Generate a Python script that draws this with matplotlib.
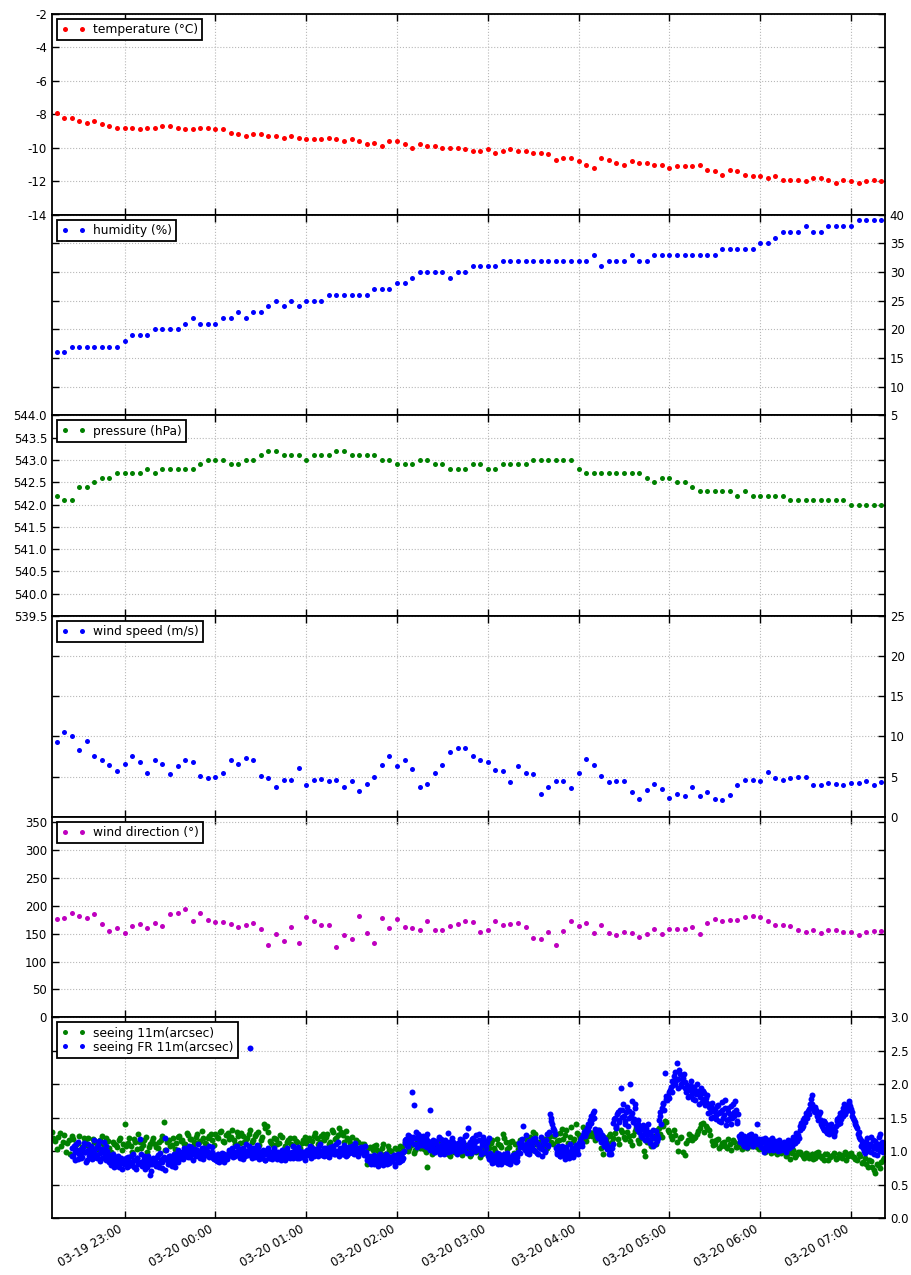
import numpy as np
import pandas as pd
import matplotlib
matplotlib.use("Agg")
import matplotlib.pyplot as plt
import matplotlib.dates as mdates
from matplotlib.ticker import FormatStrFormatter

plt.rcParams["font.family"] = ["DejaVu Sans"]
plt.rcParams["font.size"] = 8.5

# weather station, one sample every 5 minutes
weather_start = "2016-03-19 22:15"

temperature = [
    -7.9, -8.2, -8.2, -8.4, -8.5, -8.4, -8.6, -8.7, -8.8, -8.8,
    -8.8, -8.9, -8.8, -8.8, -8.7, -8.7, -8.8, -8.9, -8.9, -8.8,
    -8.8, -8.9, -8.9, -9.1, -9.2, -9.3, -9.2, -9.2, -9.3, -9.3,
    -9.4, -9.3, -9.4, -9.5, -9.5, -9.5, -9.4, -9.5, -9.6, -9.5,
    -9.6, -9.8, -9.7, -9.9, -9.6, -9.6, -9.8, -10.0, -9.8, -9.9,
    -9.9, -10.0, -10.0, -10.0, -10.1, -10.2, -10.2, -10.1, -10.3, -10.2,
    -10.1, -10.2, -10.2, -10.3, -10.3, -10.4, -10.7, -10.6, -10.6, -10.8,
    -11.0, -11.2, -10.6, -10.7, -10.9, -11.0, -10.8, -10.9, -10.9, -11.0,
    -11.0, -11.2, -11.1, -11.1, -11.1, -11.0, -11.3, -11.4, -11.6, -11.3,
    -11.4, -11.6, -11.7, -11.7, -11.8, -11.7, -11.9, -11.9, -11.9, -12.0,
    -11.8, -11.8, -11.9, -12.1, -11.9, -12.0, -12.1, -12.0, -11.9, -12.0,
]

humidity = [
    16, 16, 17, 17, 17, 17, 17, 17, 17, 18,
    19, 19, 19, 20, 20, 20, 20, 21, 22, 21,
    21, 21, 22, 22, 23, 22, 23, 23, 24, 25,
    24, 25, 24, 25, 25, 25, 26, 26, 26, 26,
    26, 26, 27, 27, 27, 28, 28, 29, 30, 30,
    30, 30, 29, 30, 30, 31, 31, 31, 31, 32,
    32, 32, 32, 32, 32, 32, 32, 32, 32, 32,
    32, 33, 31, 32, 32, 32, 33, 32, 32, 33,
    33, 33, 33, 33, 33, 33, 33, 33, 34, 34,
    34, 34, 34, 35, 35, 36, 37, 37, 37, 38,
    37, 37, 38, 38, 38, 38, 39, 39, 39, 39,
]

pressure = [
    542.2, 542.1, 542.1, 542.4, 542.4, 542.5, 542.6, 542.6, 542.7, 542.7,
    542.7, 542.7, 542.8, 542.7, 542.8, 542.8, 542.8, 542.8, 542.8, 542.9,
    543.0, 543.0, 543.0, 542.9, 542.9, 543.0, 543.0, 543.1, 543.2, 543.2,
    543.1, 543.1, 543.1, 543.0, 543.1, 543.1, 543.1, 543.2, 543.2, 543.1,
    543.1, 543.1, 543.1, 543.0, 543.0, 542.9, 542.9, 542.9, 543.0, 543.0,
    542.9, 542.9, 542.8, 542.8, 542.8, 542.9, 542.9, 542.8, 542.8, 542.9,
    542.9, 542.9, 542.9, 543.0, 543.0, 543.0, 543.0, 543.0, 543.0, 542.8,
    542.7, 542.7, 542.7, 542.7, 542.7, 542.7, 542.7, 542.7, 542.6, 542.5,
    542.6, 542.6, 542.5, 542.5, 542.4, 542.3, 542.3, 542.3, 542.3, 542.3,
    542.2, 542.3, 542.2, 542.2, 542.2, 542.2, 542.2, 542.1, 542.1, 542.1,
    542.1, 542.1, 542.1, 542.1, 542.1, 542.0, 542.0, 542.0, 542.0, 542.0,
]

wind_speed = [
    9.3, 10.5, 10.1, 8.3, 9.4, 7.5, 7.0, 6.5, 5.7, 6.6,
    7.6, 6.8, 5.4, 7.0, 6.6, 5.3, 6.3, 7.1, 6.8, 5.1,
    4.8, 4.9, 5.4, 7.1, 6.6, 7.3, 7.1, 5.1, 4.8, 3.7,
    4.6, 4.6, 6.1, 3.9, 4.6, 4.7, 4.4, 4.6, 3.7, 4.4,
    3.2, 4.1, 4.9, 6.4, 7.6, 6.3, 7.1, 5.9, 3.7, 4.1,
    5.5, 6.4, 8.0, 8.5, 8.5, 7.6, 7.0, 6.8, 5.8, 5.7,
    4.3, 6.3, 5.4, 5.3, 2.8, 3.7, 4.5, 4.5, 3.6, 5.4,
    7.2, 6.5, 5.1, 4.3, 4.5, 4.4, 3.1, 2.2, 3.3, 4.1,
    3.5, 2.3, 2.8, 2.6, 3.7, 2.6, 3.1, 2.2, 2.1, 2.7,
    3.9, 4.6, 4.6, 4.5, 5.6, 4.8, 4.6, 4.8, 5.0, 4.9,
    4.0, 4.0, 4.2, 4.1, 3.9, 4.2, 4.2, 4.5, 4.0, 4.3,
]

wind_dir = [
    177, 179, 187, 181, 179, 185, 167, 155, 161, 152,
    164, 167, 161, 170, 164, 185, 187, 194, 172, 187,
    175, 171, 171, 167, 162, 165, 170, 158, 129, 149,
    137, 162, 134, 180, 173, 165, 165, 126, 147, 140,
    181, 152, 133, 179, 160, 176, 162, 160, 157, 173,
    157, 157, 164, 168, 173, 171, 153, 156, 172, 165,
    168, 170, 162, 142, 140, 154, 130, 155, 172, 164,
    170, 151, 165, 152, 147, 153, 152, 144, 149, 158,
    149, 159, 158, 159, 162, 150, 170, 176, 173, 174,
    174, 180, 182, 180, 172, 166, 165, 163, 157, 154,
    156, 151, 157, 157, 154, 154, 147, 154, 155, 155,
]

# seeing monitors, values in 1/100 arcsec
# 11m: even minutes from 22:12, odd minutes from 22:13
seeing_11m_even_start = "2016-03-19 22:12"
seeing_11m_even = [
    128, 115, 121, 108, 124, 112, 96, 118, 110, 122, 106, 115, 119, 104, 113, 108, 117, 111, 120, 105, 114, 109, 116, 102,
    141, 112, 107, 118, 103, 114, 109, 121, 106, 115, 111, 104, 117, 144, 113, 108, 119, 112, 122, 116, 110, 124, 118, 113, 126, 115, 120, 111, 123, 117,
    125, 119, 130, 114, 127, 121, 116, 128, 112, 123, 118, 126, 113, 122, 129, 117, 140, 137, 115, 109, 118, 112, 121, 107, 116, 110, 119, 113, 105, 117,
    112, 120, 115, 127, 110, 122, 117, 125, 113, 129, 119, 135, 124, 130, 116, 121, 108, 113, 104, 110, 81, 106, 101, 109, 98, 104, 96, 107, 100, 94,
    103, 108, 99, 112, 105, 110, 101, 108, 114, 103, 77, 109, 104, 111, 100, 107, 102, 95, 106, 99, 104, 97, 108, 101, 93, 105, 98, 103, 96, 100,
    107, 112, 104, 118, 109, 125, 113, 106, 115, 110, 103, 117, 108, 114, 121, 128, 111, 106, 116, 109, 119, 113, 122, 115, 127, 118, 132, 121, 114, 140,
    124, 118, 131, 122, 147, 128, 119, 125, 95, 116, 122, 113, 127, 118, 132, 121, 128, 115, 124, 135, 112, 119, 92, 117, 108, 122, 131, 126, 138, 143,
    128, 118, 124, 100, 121, 94, 117, 123, 119, 126, 134, 142, 138, 131, 115, 110, 118, 107, 113, 104, 111, 116, 106, 112, 103, 109, 115, 108, 113, 106,
    110, 103, 108, 101, 106, 99, 104, 97, 102, 96, 88, 101, 94, 99, 92, 97, 90, 95, 89, 98, 93, 87, 96, 91, 94, 88, 95, 90, 99, 93,
    97, 91, 86, 92, 84, 80, 87, 76, 68, 79, 83, 90,
]
seeing_11m_odd_start = "2016-03-19 22:13"
seeing_11m_odd = [
    119, 103, 127, 114, 99, 116, 123, 107, 112, 98, 120, 109, 104, 118, 113, 101, 122, 107, 115, 99, 111, 106, 119, 110,
    108, 120, 99, 113, 125, 104, 116, 98, 111, 119, 106, 114, 122, 101, 117, 109, 103, 121, 115, 110, 127, 118, 108, 121, 114, 130, 112, 119, 125, 109,
    121, 128, 115, 124, 118, 132, 110, 122, 127, 114, 120, 131, 117, 125, 109, 121, 135, 128, 112, 119, 111, 124, 103, 114, 120, 108, 115, 102, 112, 121,
    116, 108, 123, 119, 113, 126, 121, 110, 131, 118, 124, 128, 114, 120, 112, 106, 117, 101, 111, 99, 104, 93, 108, 102, 97, 111, 95, 102, 90, 105,
    98, 106, 113, 100, 109, 97, 115, 104, 111, 99, 108, 96, 104, 113, 101, 97, 110, 93, 106, 101, 99, 94, 109, 103, 96, 106, 100, 91, 102, 97,
    104, 116, 100, 111, 106, 119, 103, 114, 97, 110, 116, 107, 120, 112, 101, 125, 114, 109, 118, 104, 122, 110, 126, 116, 133, 124, 112, 136, 118, 127,
    120, 136, 115, 129, 123, 117, 131, 104, 121, 112, 126, 119, 135, 111, 129, 118, 122, 109, 130, 116, 124, 100, 113, 126, 119, 110, 134, 121, 145, 131,
    122, 131, 113, 120, 99, 112, 126, 116, 121, 130, 140, 128, 135, 124, 109, 117, 104, 112, 108, 118, 102, 113, 106, 110, 117, 104, 111, 108, 114, 103,
    105, 99, 106, 97, 103, 95, 101, 105, 93, 98, 97, 91, 99, 95, 90, 96, 93, 88, 97, 92, 90, 95, 86, 93, 97, 89, 92, 94, 87, 96,
    93, 88, 95, 82, 89, 77, 85, 72, 81, 75, 86,
]

# FR 11m: every minute from 22:25, plus the half-minute readings from 22:25:30
seeing_fr_start = "2016-03-19 22:25"
seeing_fr = [
    105, 92, 99, 110, 88, 96, 103, 91, 112, 98, 86, 101, 95, 108, 90, 99, 104, 93, 115, 97,
    89, 102, 94, 107, 92, 84, 79, 88, 76, 85, 91, 80, 83, 74, 87,
    82, 90, 78, 85, 93, 81, 77, 86, 89, 80, 118, 84, 79, 92, 83, 76, 88, 64, 81, 90,
    85, 78, 94, 82, 87, 75, 91, 120, 86, 80, 93, 84, 89, 77, 95, 83, 88, 92, 99, 94,
    103, 96, 91, 100, 106, 95, 98, 93, 102, 97, 90, 104, 99, 94, 101, 96, 108, 92, 98, 88,
    91, 85, 94, 87, 92, 86, 95, 89, 93, 101, 96, 105, 98, 92, 107, 100, 94, 103, 88, 99,
    110, 97, 102, 254, 95, 104, 91, 100, 106, 93, 98, 90, 96, 87, 101, 94, 89, 99, 92, 104,
    95, 88, 97, 91, 102, 93, 86, 96, 99, 90, 94, 108, 92, 97, 89, 95, 100, 91, 98, 93,
    97, 102, 94, 99, 105, 92, 98, 101, 95, 110, 96, 100, 93, 104, 98, 91, 102, 97, 107, 95,
    100, 114, 98, 103, 96, 109, 101, 94, 106, 99, 103, 97, 112, 100, 95, 105, 98, 102, 96, 108,
    93, 89, 84, 91, 86, 80, 92, 87, 83, 95, 88, 79, 90, 85, 93, 82, 89, 86, 94, 81,
    88, 92, 85, 97, 90, 112, 118, 108, 122, 115, 188, 169, 120, 111, 126, 117, 109, 123, 114, 119,
    106, 113, 161, 104, 110, 99, 115, 107, 102, 118, 105, 96, 111, 103, 127, 108, 100, 114, 106, 98,
    112, 104, 109, 116, 101, 122, 108, 135, 113, 97, 119, 110, 124, 105, 117, 102, 114, 121, 99, 111,
    92, 120, 86, 94, 83, 90, 97, 85, 91, 80, 88, 95, 84, 92, 87, 81, 93, 89, 96, 85,
    99, 106, 112, 138, 104, 110, 97, 115, 102, 108, 118, 100, 113, 95, 107, 121, 103, 111, 98, 126,
    109, 155, 145, 135, 130, 104, 96, 101, 92, 107, 98, 88, 103, 95, 110, 99, 91, 105, 97, 102,
    108, 115, 112, 124, 130, 127, 141, 138, 152, 148, 160, 133, 126, 119, 128, 114, 121, 108, 112, 103,
    96, 99, 105, 142, 150, 138, 158, 147, 195, 162, 153, 141, 166, 149, 200, 157, 144, 171, 139, 146,
    128, 135, 121, 132, 117, 126, 140, 113, 124, 108, 119, 130, 115, 146, 158, 165, 172, 217, 178, 183,
    180, 196, 205, 212, 201, 232, 208, 215, 197, 210, 203, 188, 194, 183, 198, 186, 192, 176, 201, 189,
    181, 195, 178, 187, 173, 184, 166, 158, 172, 151, 163, 148, 169, 157, 143, 161, 154, 176, 147, 165,
    156, 140, 170, 152, 162, 145, 122, 114, 119, 108, 116, 121, 111, 118, 125, 109, 117, 113, 140, 115,
    110, 118, 105, 113, 107, 116, 102, 111, 120, 104, 109, 114, 100, 108, 103, 112, 106, 99, 110, 104,
    115, 108, 121, 112, 118, 124, 131, 142, 138, 150, 157, 149, 163, 171, 184, 166, 158, 162, 151, 155,
    146, 138, 131, 142, 127, 136, 129, 140, 133, 125, 137, 145, 151, 142, 158, 164, 155, 168, 161, 175,
    163, 152, 146, 140, 134, 129, 118, 111, 104, 97, 113, 106, 100, 121, 108, 96, 115, 103, 110, 125,
    107, 99, 112,
]
seeing_fr_half_start = "2016-03-19 22:25:30"
seeing_fr_half = [
    92, 108, 86, 101, 114, 95, 89, 106, 99, 84, 111, 93, 102, 88, 117, 96, 90, 109, 85, 103, 98, 113, 87, 100, 94,
    88, 81, 95, 78, 86, 92, 77, 89, 84, 80,
    86, 76, 91, 83, 79, 95, 87, 74, 90, 82, 96, 78, 88, 73, 85, 92, 80, 70, 87, 83,
    79, 91, 76, 97, 84, 89, 72, 101, 81, 93, 86, 78, 95, 83, 90, 101, 92, 97, 88, 104,
    93, 100, 108, 91, 97, 86, 103, 95, 110, 92, 99, 88, 105, 94, 100, 91, 97, 106, 89, 94,
    87, 95, 84, 90, 97, 83, 91, 88, 96, 94, 102, 91, 99, 108, 95, 103, 89, 97, 105, 92,
    100, 94, 107, 98, 90, 101, 96, 109, 88, 99, 93, 101, 86, 97, 104, 90, 96, 88, 102, 95,
    91, 99, 94, 86, 100, 97, 89, 104, 92, 95, 98, 89, 101, 94, 106, 90, 97, 92, 99, 87,
    101, 95, 107, 90, 99, 103, 96, 92, 108, 100, 94, 105, 98, 101, 92, 106, 97, 103, 95, 110,
    99, 93, 104, 100, 96, 106, 92, 102, 97, 101, 108, 95, 99, 104, 93, 98, 106, 100, 94, 99,
    86, 92, 81, 88, 94, 84, 90, 78, 87, 92, 83, 89, 96, 80, 87, 91, 85, 93, 78, 90,
    95, 84, 91, 87, 100, 116, 107, 124, 113, 119, 121, 110, 128, 106, 118, 122, 112, 116, 108, 125,
    115, 102, 109, 117, 98, 112, 104, 121, 96, 110, 101, 116, 107, 98, 113, 104, 119, 102, 110, 95,
    107, 118, 100, 113, 106, 124, 97, 111, 104, 118, 108, 100, 115, 103, 126, 96, 109, 117, 104, 113,
    88, 97, 82, 89, 93, 86, 80, 95, 88, 84, 92, 86, 97, 82, 90, 85, 94, 87, 83, 91,
    112, 97, 118, 106, 101, 124, 108, 96, 113, 105, 102, 119, 97, 110, 104, 93, 115, 100, 117, 107,
    128, 150, 140, 132, 125, 98, 108, 93, 100, 104, 94, 106, 100, 89, 97, 105, 93, 101, 109, 96,
    112, 119, 107, 128, 122, 135, 131, 146, 142, 157, 150, 129, 122, 131, 117, 124, 111, 118, 104, 108,
    101, 95, 110, 148, 135, 155, 143, 162, 151, 170, 145, 158, 137, 160, 152, 175, 148, 165, 133, 140,
    135, 122, 139, 126, 134, 118, 129, 112, 121, 132, 110, 124, 119, 152, 140, 170, 162, 182, 176, 188,
    192, 188, 199, 218, 207, 195, 222, 201, 208, 216, 194, 199, 181, 192, 205, 178, 196, 185, 190, 170,
    186, 174, 190, 169, 180, 157, 170, 149, 165, 160, 154, 167, 145, 158, 173, 150, 164, 139, 158, 148,
    168, 150, 158, 175, 142, 155, 118, 126, 110, 122, 112, 106, 124, 114, 120, 107, 122, 115, 111, 118,
    106, 114, 99, 119, 112, 104, 117, 108, 101, 115, 113, 105, 117, 102, 110, 114, 101, 107, 116, 111,
    108, 118, 112, 127, 115, 120, 138, 135, 146, 144, 152, 160, 155, 178, 170, 160, 166, 153, 147, 158,
    140, 134, 145, 130, 139, 126, 134, 128, 122, 130, 148, 140, 157, 148, 152, 170, 160, 162, 172, 167,
    158, 149, 143, 137, 125, 121, 108, 115, 100, 106, 119, 102, 111, 98, 117, 104, 109, 94, 121, 100,
    114, 105,
]

t_weather = pd.date_range(weather_start, periods=len(temperature), freq="5min")


def stamps(start, vals, step):
    return pd.date_range(start, periods=len(vals), freq=step)


t_11m = stamps(seeing_11m_even_start, seeing_11m_even, "2min").append(
    stamps(seeing_11m_odd_start, seeing_11m_odd, "2min"))
v_11m = np.array(seeing_11m_even + seeing_11m_odd) / 100.0
t_fr = stamps(seeing_fr_start, seeing_fr, "1min").append(
    stamps(seeing_fr_half_start, seeing_fr_half, "1min"))
v_fr = np.array(seeing_fr + seeing_fr_half) / 100.0

fig, axes = plt.subplots(6, 1, sharex=True, figsize=(9.12, 12.75), dpi=100)
fig.subplots_adjust(left=0.057, right=0.9704, top=0.989, bottom=0.0447, hspace=0)

ms = 3.6
panels = [
    (temperature, "r", "temperature (°C)", (-14, -2), np.arange(-14, -1, 2), "%d", "left"),
    (humidity, "b", "humidity (%)", (5, 40), np.arange(5, 41, 5), "%d", "right"),
    (pressure, "g", "pressure (hPa)", (539.5, 544.0), np.arange(539.5, 544.01, 0.5), "%.1f", "left"),
    (wind_speed, "b", "wind speed (m/s)", (0, 25), np.arange(0, 26, 5), "%d", "right"),
    (wind_dir, "m", "wind direction (°)", (0, 360), np.arange(0, 351, 50), "%d", "left"),
]

for ax, (vals, col, label, ylim, yt, fmt, side) in zip(axes[:5], panels):
    ax.plot(t_weather, vals, "o", color=col, ms=ms, mew=0, label=label)
    ax.set_ylim(*ylim)
    ax.set_yticks(yt)
    ax.yaxis.set_major_formatter(FormatStrFormatter(fmt))
    ax.tick_params(axis="y", labelleft=(side == "left"), labelright=(side == "right"))

ax = axes[5]
ax.plot(t_11m, v_11m, "o", color="g", ms=4.3, mew=0, label="seeing 11m(arcsec)")
ax.plot(t_fr, v_fr, "o", color="b", ms=4.3, mew=0, label="seeing FR 11m(arcsec)")
ax.set_ylim(0, 3.0)
ax.set_yticks(np.arange(0, 3.01, 0.5))
ax.yaxis.set_major_formatter(FormatStrFormatter("%.1f"))
ax.tick_params(axis="y", labelleft=False, labelright=True)

for ax in axes:
    ax.grid(True, linestyle=":", color="0.72", linewidth=0.8)
    ax.tick_params(direction="in", top=True, bottom=True, left=True, right=True,
                   length=5, width=1, color="black")
    for sp in ax.spines.values():
        sp.set_linewidth(1.3)
    leg = ax.legend(loc="upper left", numpoints=2, fancybox=False, fontsize=8.8,
                    borderaxespad=0.4, handletextpad=0.6, borderpad=0.35,
                    labelspacing=0.1, framealpha=1, markerscale=3.6 / 4.3 if ax is axes[5] else 1)
    leg.get_frame().set_edgecolor("black")
    leg.get_frame().set_linewidth(1.3)

axes[-1].set_xlim(t_11m.min(), t_fr.max() + pd.Timedelta("30s"))
axes[-1].xaxis.set_major_locator(mdates.HourLocator())
axes[-1].xaxis.set_major_formatter(mdates.DateFormatter("%m-%d %H:%M"))
for lbl in axes[-1].get_xticklabels():
    lbl.set_rotation(30)
    lbl.set_ha("right")

fig.savefig("out.png", dpi=100)
